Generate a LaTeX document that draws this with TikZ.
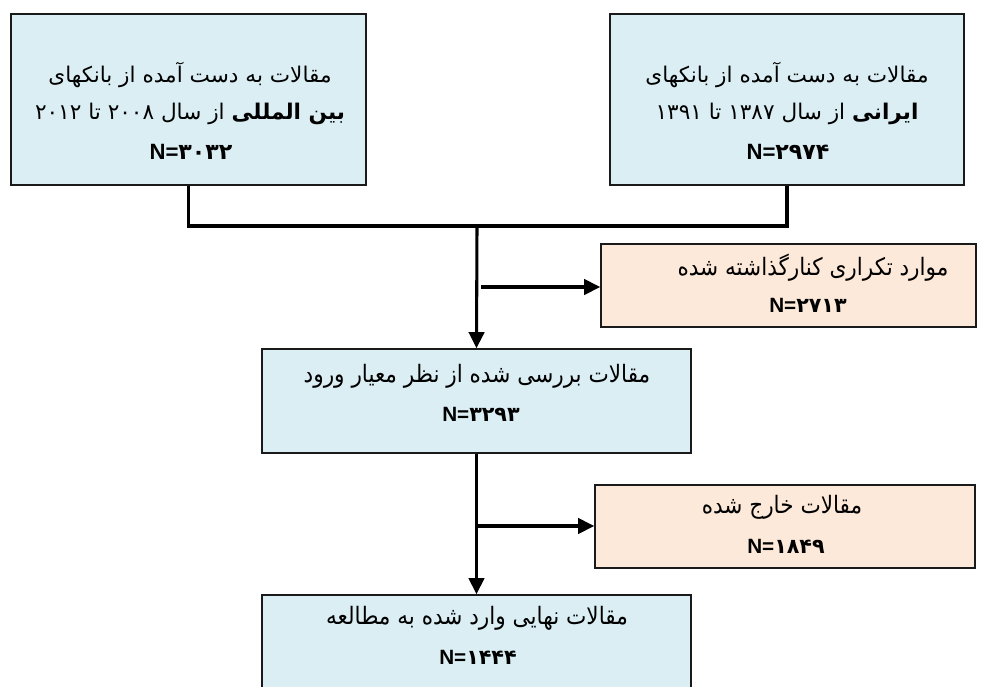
\documentclass[tikz,border=0pt]{standalone}
\usepackage{fontspec}
\usetikzlibrary{arrows.meta}
\TeXXeTstate=1
\newfontfamily\fa[Script=Arabic]{DejaVu Sans}
\newfontfamily\facn[Script=Arabic]{DejaVu Sans Condensed}
\newfontfamily\lat{Liberation Sans}
\definecolor{boxblue}{HTML}{DAEEF3}
\definecolor{boxpink}{HTML}{FDE9D9}
\definecolor{edge}{HTML}{1A1A1A}
\newcommand{\nline}[1]{{\lat\bfseries N=}{\fa\bfseries #1}}
\tikzset{
  bluebox/.style={draw=edge, line width=1.2pt, fill=boxblue, inner sep=0pt},
  pinkbox/.style={draw=edge, line width=1.2pt, fill=boxpink, inner sep=0pt},
  txt/.style={inner sep=0pt, font=\fa\fontsize{16.2}{19}\selectfont},
  txtc/.style={inner sep=0pt, font=\facn\fontsize{18}{21}\selectfont},
  ntop/.style={inner sep=0pt, font=\fontsize{16.6}{19}\selectfont},
  nlow/.style={inner sep=0pt, font=\fontsize{15.5}{18}\selectfont},
  conn/.style={line width=2.3pt, black},
  arrow/.style={conn, -{Triangle[length=12pt, width=11.5pt]}}
}
\begin{document}
\begin{tikzpicture}[x=0.75pt, y=-0.75pt]
\useasboundingbox (0,0) rectangle (1003,686);
% boxes
\node[bluebox, minimum width=266.25pt, minimum height=128.25pt] (A) at (188.5,99.5) {};
\node[bluebox, minimum width=265.5pt, minimum height=128.25pt] (B) at (787,99.5) {};
\node[pinkbox, minimum width=281.25pt, minimum height=62.25pt] (D) at (788.5,285.5) {};
\node[bluebox, minimum width=321.75pt, minimum height=78pt] (C) at (476.5,401) {};
\node[pinkbox, minimum width=285pt, minimum height=62.25pt] (E) at (785,526.5) {};
\node[bluebox, minimum width=321.75pt, minimum height=86.25pt] (F) at (476.5,652.5) {};
% texts
\node[txt] (a1) at (190,75) {\beginR مقالات به دست آمده از بانکهای\endR};
\node[txt] (a2) at (190,114) {\beginR{\bfseries بین المللی} از سال ۲۰۰۸ تا ۲۰۱۲\endR};
\node[ntop] (a3) at (191,152) {\nline{۳۰۳۲}};
\node[txt] (b1) at (787,75) {\beginR مقالات به دست آمده از بانکهای\endR};
\node[txt] (b2) at (787,114) {\beginR{\bfseries ایرانی} از سال ۱۳۸۷ تا ۱۳۹۱\endR};
\node[ntop] (b3) at (788,152) {\nline{۲۹۷۴}};
\node[txtc] (d1) at (813,268) {\beginR موارد تکراری کنارگذاشته شده\endR};
\node[nlow] (d2) at (808,305) {\nline{۲۷۱۳}};
\node[txtc] (c1) at (477,376) {\beginR مقالات بررسی شده از نظر معیار ورود\endR};
\node[nlow] (c2) at (481,414) {\nline{۳۲۹۳}};
\node[txtc] (e1) at (782,507) {\beginR مقالات خارج شده\endR};
\node[nlow] (e2) at (786,546) {\nline{۱۸۴۹}};
\node[txtc] (f1) at (477,618) {\beginR مقالات نهایی وارد شده به مطالعه\endR};
\node[nlow] (f2) at (478,657) {\nline{۱۴۴۴}};
% connectors
\coordinate (J) at (477,226);
\coordinate (K) at (481,287);
\coordinate (L) at (477,526);
\draw[conn] (A.south) |- (J) -| (B.south);
\draw[arrow] (J) -- (C.north);
\draw[arrow] (K) -- (D.west |- K);
\draw[arrow] (C.south) -- (F.north);
\draw[arrow] (L) -- (E.west |- L);
\end{tikzpicture}
\end{document}
